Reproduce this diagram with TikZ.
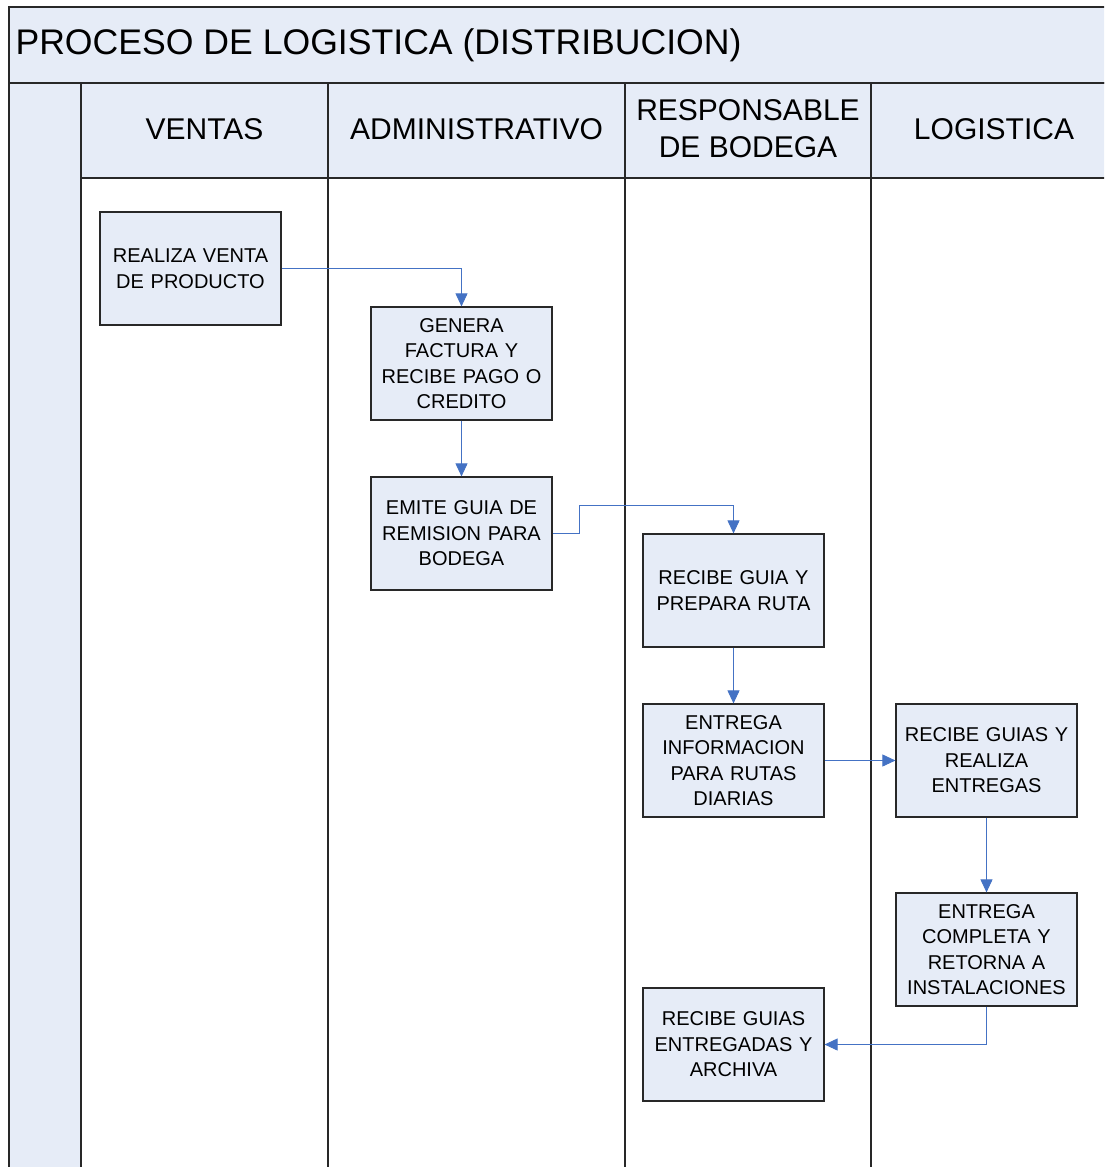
\documentclass[tikz,border=0pt]{standalone}
\usepackage{fontspec}
\setmainfont{Liberation Sans}
\usepackage{xcolor}
\usepackage{tikz}
\usetikzlibrary{arrows.meta}

\definecolor{lanefill}{RGB}{230,236,247}
\definecolor{flowblue}{RGB}{68,114,196}
\definecolor{framegray}{RGB}{40,40,40}

\tikzset{
  lanebox/.style={draw=framegray,line width=1.6pt,fill=lanefill},
  stepbox/.style={draw=framegray,line width=1.2pt,fill=lanefill,minimum width=181pt,
    minimum height=113pt,text width=175pt,align=center,inner sep=0pt,
    font=\fontsize{20}{25.5}\selectfont},
  flow/.style={draw=flowblue,line width=0.9pt,-{Triangle[length=13pt,width=12pt]}},
}

\begin{document}
\begin{tikzpicture}[x=1pt,y=-1pt]
\useasboundingbox (0,0) rectangle (1104,1167);
\clip (0,0) rectangle (1104,1167);

% pool frame and title band
\draw[lanebox] (9,7) rectangle (1120,83);
\node[anchor=west,font=\fontsize{35.6}{40}\selectfont] (title) at (12,45) {PROCESO DE LOGISTICA (DISTRIBUCION)};

% left strip and lanes
\draw[lanebox] (9,83) rectangle (81,1180);
\fill[white] (81,178) rectangle (1120,1180);
\draw[lanebox] (81,83) rectangle (1120,178);
\foreach \x in {81,328,625,871}
  \draw[framegray,line width=1.6pt] (\x,83) -- (\x,1180);

% lane headers
\node[font=\fontsize{30}{37}\selectfont] (ventas) at (204.5,129) {VENTAS};
\node[font=\fontsize{30}{37}\selectfont] (admin) at (476.5,129) {ADMINISTRATIVO};
\node[font=\fontsize{30}{37}\selectfont,align=center] (bodega) at (748,129) {RESPONSABLE\\DE BODEGA};
\node[font=\fontsize{30}{37}\selectfont] (logist) at (994,129) {LOGISTICA};

% steps
\node[stepbox] (venta) at (190.5,268.5) {REALIZA VENTA\\DE PRODUCTO};
\node[stepbox] (factura) at (461.5,363.5) {GENERA\\FACTURA Y\\RECIBE PAGO O\\CREDITO};
\node[stepbox] (guia) at (461.5,533.5) {EMITE GUIA DE\\REMISION PARA\\BODEGA};
\node[stepbox] (ruta) at (733.5,590.5) {RECIBE GUIA Y\\PREPARA RUTA};
\node[stepbox] (info) at (733.5,760.5) {ENTREGA\\INFORMACION\\PARA RUTAS\\DIARIAS};
\node[stepbox] (entregas) at (986.5,760.5) {RECIBE GUIAS Y\\REALIZA\\ENTREGAS};
\node[stepbox] (retorno) at (986.5,949.5) {ENTREGA\\COMPLETA Y\\RETORNA A\\INSTALACIONES};
\node[stepbox] (archiva) at (733.5,1044.5) {RECIBE GUIAS\\ENTREGADAS Y\\ARCHIVA};

% connectors
\draw[flow] (venta.east) -| (factura.north);
\draw[flow] (factura) -- (guia);
\draw[flow] (guia.east) -- ++(27,0) |- ([yshift=28pt]ruta.north) -- (ruta.north);
\draw[flow] (ruta) -- (info);
\draw[flow] (info) -- (entregas);
\draw[flow] (entregas) -- (retorno);
\draw[flow] (retorno.south) |- (archiva.east);
\end{tikzpicture}
\end{document}
